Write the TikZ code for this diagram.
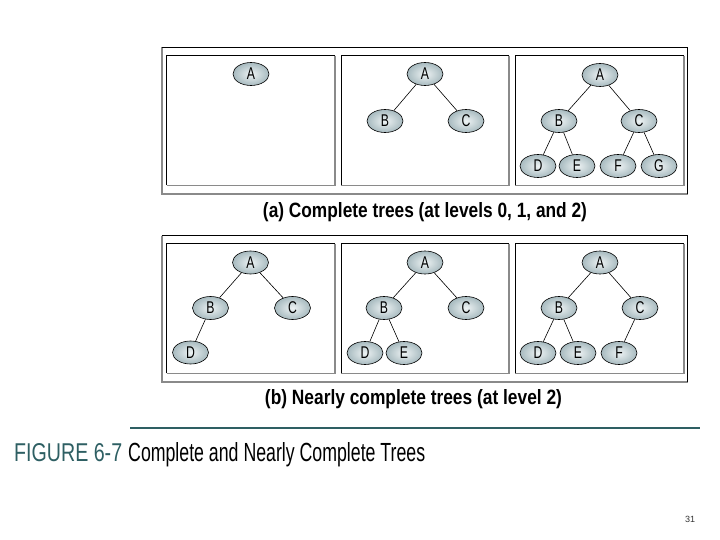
\documentclass[tikz,border=0pt]{standalone}
\usepackage{fontspec}
\setmainfont{Liberation Sans}
\newfontfamily\narrowsans[FakeStretch=0.72]{Liberation Sans}
\usetikzlibrary{shapes.geometric}
\definecolor{tealrule}{HTML}{2E5F63}
\definecolor{nodein}{HTML}{EEF3F4}
\definecolor{nodeout}{HTML}{A7BABF}
\definecolor{shadowgray}{HTML}{8A8A8A}
\tikzset{
  tnode/.style={ellipse, draw=black, line width=0.6pt, inner color=nodein, outer color=nodeout,
    minimum width=36pt, minimum height=23pt, inner sep=0pt,
    font=\narrowsans\fontsize{17}{17}\selectfont},
  tedge/.style={draw=black, line width=0.6pt},
  darkline/.style={draw=black, line width=0.9pt},
  greyline/.style={draw=shadowgray, line width=1.6pt},
}
\newcommand{\outerbox}[4]{%
  \draw[greyline] (#1,#2) -- (#1,#4) -- (#3,#4);
  \draw[darkline] (#1,#2) -- (#3,#2) -- (#3,#4);}
\newcommand{\innerbox}[4]{%
  \draw[greyline] (#3,#2) -- (#3,#4) -- (#1,#4);
  \draw[darkline] (#1,#4) -- (#1,#2) -- (#3,#2);}
\begin{document}
\begin{tikzpicture}[x=1pt,y=-1pt]
\useasboundingbox (0,0) rectangle (720,540);
\fill[white] (0,0) rectangle (720,540);

% ---------- frames (a)
\outerbox{161.7}{47.3}{687.7}{194.3}
\innerbox{166.7}{55.7}{335}{185.5}
\innerbox{341.3}{55.7}{509}{185.5}
\innerbox{515.3}{55.7}{684}{185.5}
% ---------- frames (b)
\outerbox{161.7}{235.5}{687.7}{381.7}
\innerbox{166.7}{243.5}{335}{373.3}
\innerbox{341.3}{243.5}{509}{373.3}
\innerbox{515.3}{243.5}{684}{373.3}

% ---------- trees (a)
\node[tnode] (a1A) at (251,74) {A};

\node[tnode] (a2A) at (425,74) {A};
\node[tnode] (a2B) at (385,121) {B};
\node[tnode] (a2C) at (466,121) {C};
\draw[tedge] (a2A) -- (a2B);
\draw[tedge] (a2A) -- (a2C);

\node[tnode] (a3A) at (600,75) {A};
\node[tnode] (a3B) at (559,121) {B};
\node[tnode] (a3C) at (639,121) {C};
\node[tnode] (a3D) at (538,166) {D};
\node[tnode] (a3E) at (577,166) {E};
\node[tnode] (a3F) at (618,166) {F};
\node[tnode] (a3G) at (659,166) {G};
\draw[tedge] (a3A) -- (a3B);
\draw[tedge] (a3A) -- (a3C);
\draw[tedge] (a3B) -- (a3D);
\draw[tedge] (a3B) -- (a3E);
\draw[tedge] (a3C) -- (a3F);
\draw[tedge] (a3C) -- (a3G);

% ---------- trees (b)
\node[tnode] (b1A) at (250.5,262.5) {A};
\node[tnode] (b1B) at (210.5,308) {B};
\node[tnode] (b1C) at (292.5,308) {C};
\node[tnode] (b1D) at (190.5,352.5) {D};
\draw[tedge] (b1A) -- (b1B);
\draw[tedge] (b1A) -- (b1C);
\draw[tedge] (b1B) -- (b1D);

\node[tnode] (b2A) at (425,262.5) {A};
\node[tnode] (b2B) at (384,308) {B};
\node[tnode] (b2C) at (466,308) {C};
\node[tnode] (b2D) at (365,353) {D};
\node[tnode] (b2E) at (404,353) {E};
\draw[tedge] (b2A) -- (b2B);
\draw[tedge] (b2A) -- (b2C);
\draw[tedge] (b2B) -- (b2D);
\draw[tedge] (b2B) -- (b2E);

\node[tnode] (b3A) at (600,262.5) {A};
\node[tnode] (b3B) at (559,308) {B};
\node[tnode] (b3C) at (640,308) {C};
\node[tnode] (b3D) at (538,353) {D};
\node[tnode] (b3E) at (578,353) {E};
\node[tnode] (b3F) at (619,353) {F};
\draw[tedge] (b3A) -- (b3B);
\draw[tedge] (b3A) -- (b3C);
\draw[tedge] (b3B) -- (b3D);
\draw[tedge] (b3B) -- (b3E);
\draw[tedge] (b3C) -- (b3F);

% ---------- captions
\node[anchor=base, inner sep=0pt] (capa) at (425,218)
  {\resizebox{324pt}{15pt}{\bfseries (a) Complete trees (at levels 0, 1, and 2)}};
\node[anchor=base, inner sep=0pt] (capb) at (413.5,404)
  {\resizebox{297pt}{15pt}{\bfseries (b) Nearly complete trees (at level 2)}};

\coordinate (ruleL) at (130,428);
\coordinate (ruleR) at (700,428);
\draw[tealrule, line width=2pt] (ruleL) -- (ruleR);

\node[anchor=base west, inner sep=0pt, text=tealrule] (figno) at (14,461)
  {\resizebox{108pt}{18pt}{FIGURE 6-7}};
\node[anchor=base west, inner sep=0pt] (figtitle) at (128,461)
  {\resizebox{297pt}{19pt}{Complete and Nearly Complete Trees}};

\node[inner sep=0pt, text=black!80, font=\fontsize{9}{9}\selectfont] (pageno) at (690,519) {31};
\end{tikzpicture}
\end{document}
